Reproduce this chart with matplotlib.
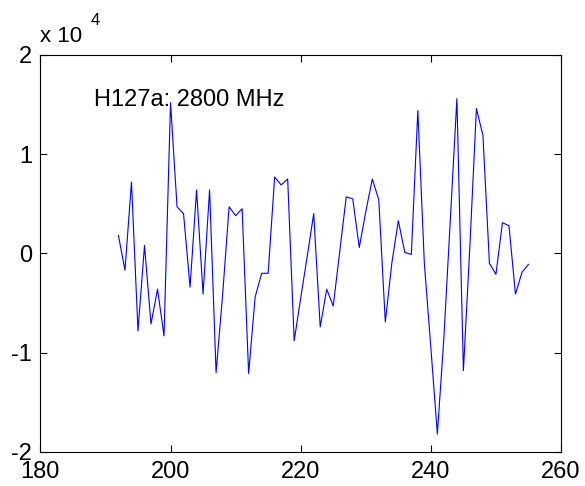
import numpy as np
import matplotlib
matplotlib.use("Agg")
import matplotlib.pyplot as plt

# signal (x = channel, y in raw units)
x_vals = np.arange(192, 256)
y_vals = np.array([
    1800, -1700, 7200, -7800, 800, -7100, -3600, -8300, 15200, 4700,
    4000, -3400, 6400, -4100, 6400, -12000, -4200, 4700, 3800, 4500,
    -12100, -4400, -2000, -2000, 7700, 6900, 7500, -8800, -4500, -300,
    4000, -7400, -3600, -5300, 200, 5700, 5500, 600, 4200, 7500,
    5400, -6900, -1000, 3300, 100, -100, 14400, -1000, -9500, -18200,
    -8500, 3500, 15600, -11800, 800, 14600, 11900, -1000, -2100, 3100,
    2800, -4100, -1900, -1100,
])
label_text = "H127a: 2800 MHz"
x_ticks = [180, 200, 220, 240, 260]
y_ticks = [-2, -1, 0, 1, 2]
scale = 1e4

plt.rcParams['font.family'] = ['Liberation Sans', 'DejaVu Sans']
plt.rcParams['axes.unicode_minus'] = False

fig = plt.figure(figsize=(5.85, 4.86), dpi=100)
ax = fig.add_axes([0.069, 0.070, 0.890, 0.817])

ax.plot(x_vals, y_vals / scale, color='#0000ff', linewidth=0.8)

ax.set_xlim(180, 260)
ax.set_ylim(-2, 2)
ax.set_xticks(x_ticks)
ax.set_yticks(y_ticks)
ax.tick_params(direction='in', length=5, width=0.8, labelsize=17,
               top=True, right=True)
ax.tick_params(axis='x', pad=6.5)
ax.tick_params(axis='y', pad=6)
for s in ax.spines.values():
    s.set_linewidth(0.8)

ax.text(188.3, 1.55, label_text, fontsize=17, va='center', ha='left')

# MATLAB-style exponent label above the y axis
fig.text(0.068, 0.925, "x 10", fontsize=16, ha='left', va='center')
fig.text(0.155, 0.957, "4", fontsize=12, ha='left', va='center')

fig.savefig("out.png", dpi=100)
